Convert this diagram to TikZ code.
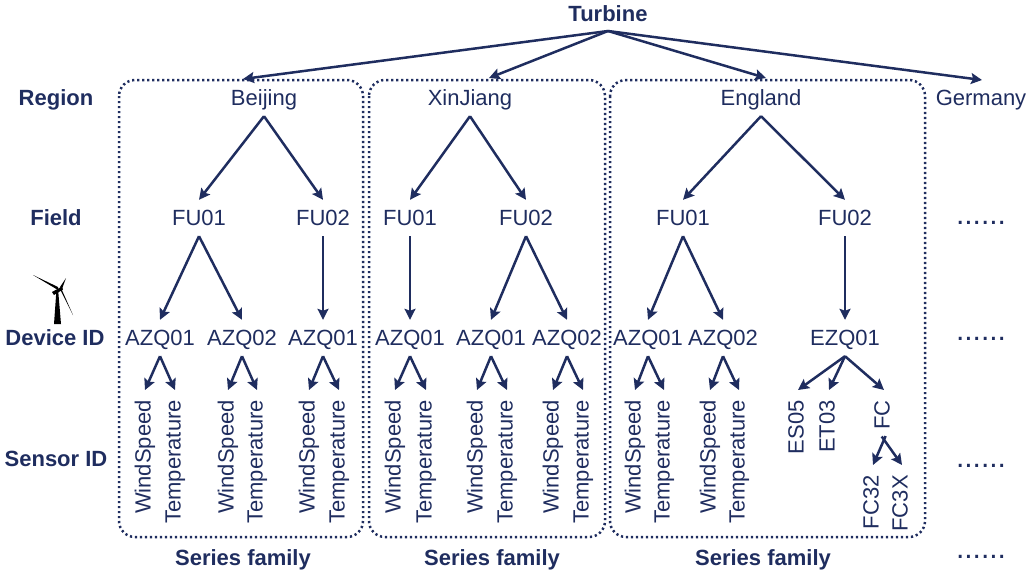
\documentclass[tikz,border=0pt]{standalone}
\usepackage{fontspec}
\setmainfont{Liberation Sans}
\usetikzlibrary{arrows.meta}
\definecolor{navy}{RGB}{31,45,95}

\begin{document}
\begin{tikzpicture}[x=1pt,y=-1pt,
  txt/.style={text=navy,font=\fontsize{22}{26}\selectfont,inner sep=0pt,minimum height=36pt,text height=16pt,text depth=1pt},
  head/.style={txt,font=\fontsize{22}{26}\selectfont\bfseries},
  more/.style={text=navy,font=\fontsize{30}{30}\selectfont,inner sep=0pt,anchor=base},
  sensor/.style={text=navy,font=\fontsize{22}{26}\selectfont,rotate=90,anchor=east,inner xsep=10pt,inner ysep=0pt,text height=16pt,text depth=5pt},
  arr/.style={draw=navy,line width=2.5pt,-{Stealth[length=11pt,width=11pt,inset=2pt]}},
  family/.style={draw=navy,line width=2.5pt,dash pattern=on 2.2pt off 2.8pt,rounded corners=16pt}]

\useasboundingbox (0,0) rectangle (1036,573);

% Family boxes
\draw[family] (119,80) rectangle (363,537);
\draw[family] (369,80) rectangle (605,537);
\draw[family] (610,80) rectangle (925,537);

% Row labels
\node[head] (turbine) at (608,14) {Turbine};
\node[head] (lregion) at (56,98) {Region};
\node[head] (lfield) at (56,218) {Field};
\node[head] (ldevice) at (55,338) {Device ID};
\node[head] (lsensor) at (56,459) {Sensor ID};
\node[head] (fam1) at (243,558) {Series family};
\node[head] (fam2) at (492,558) {Series family};
\node[head] (fam3) at (763,558) {Series family};

% Regions
\node[txt] (r1) at (264,98) {Beijing};
\node[txt] (r2) at (470,98) {XinJiang};
\node[txt] (r3) at (761,98) {England};
\node[txt] (r4) at (981,98) {Germany};

% Ends of the arrows from the top
\coordinate (t0) at (608,31);
\coordinate (t1) at (243,79);
\coordinate (t2) at (489,78);
\coordinate (t3) at (766,78);
\coordinate (t4) at (982,80);

% Fields
\node[txt] (f1) at (199,218) {FU01};
\node[txt] (f2) at (323,218) {FU02};
\node[txt] (f3) at (410,218) {FU01};
\node[txt] (f4) at (526,218) {FU02};
\node[txt] (f5) at (683,218) {FU01};
\node[txt] (f6) at (845,218) {FU02};

% Devices
\node[txt] (d1) at (160,338) {AZQ01};
\node[txt] (d2) at (242,338) {AZQ02};
\node[txt] (d3) at (323,338) {AZQ01};
\node[txt] (d4) at (410,338) {AZQ01};
\node[txt] (d5) at (491,338) {AZQ01};
\node[txt] (d6) at (567,338) {AZQ02};
\node[txt] (d7) at (648,338) {AZQ01};
\node[txt] (d8) at (723,338) {AZQ02};
\node[txt] (d9) at (845,338) {EZQ01};

% Sensors, two per device
\foreach \d/\xa/\xb in {d1/145/175,d2/228/257,d3/309/339,d4/395/426,d5/477/507,d6/553/583,d7/635/664,d8/710/739}{
  \node[sensor] (\d-w) at (\xa,390) {WindSpeed};
  \node[sensor] (\d-t) at (\xb,390) {Temperature};
  \draw[arr] (\d.south) -- (\d-w.east);
  \draw[arr] (\d.south) -- (\d-t.east);
}

% Sensors of EZQ01
\node[sensor] (es) at (798,390) {ES05};
\node[sensor] (et) at (829,390) {ET03};
\node[sensor] (fc) at (884,390) {FC};
\node[sensor] (fa) at (873,465) {FC32};
\node[sensor] (fb) at (902,465) {FC3X};

% Arrows
\foreach \a in {1,2,3,4}
  \draw[arr] (t0) -- (t\a);
\foreach \a/\b in {r1/f1,r1/f2,r2/f3,r2/f4,r3/f5,r3/f6,f1/d1,f1/d2,f2/d3,f3/d4,f4/d5,f4/d6,f5/d7,f5/d8,f6/d9}
  \draw[arr] (\a.south) -- (\b.north);
\foreach \b in {es,et,fc}
  \draw[arr] (d9.south) -- (\b.east);
\draw[arr,shorten <=-4pt] (fc.west) -- (fa.east);
\draw[arr,shorten <=-4pt] (fc.west) -- (fb.east);

% More of the same
\node[more] (m1) at (981,224) {......};
\node[more] (m2) at (981,340) {......};
\node[more] (m3) at (981,467) {......};
\node[more] (m4) at (981,558) {......};

% Wind turbine
\fill[black] (54,324) -- (56.3,292) -- (58.3,292) -- (61,324) -- cycle;
\fill[black] (52,292) -- (62,286.5) -- (63,289.5) -- (54,295) -- cycle;
\fill[black] (33,275) -- (58,287) -- (58,290) -- cycle;
\fill[black] (66,278) -- (60,287) -- (62,289) -- cycle;
\fill[black] (73,315) -- (60,289) -- (61.5,289) -- cycle;

\end{tikzpicture}
\end{document}
